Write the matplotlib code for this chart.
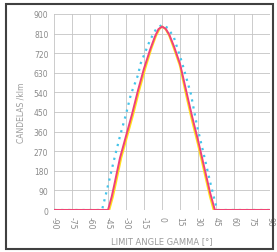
import matplotlib.pyplot as plt
from matplotlib.patches import Rectangle

# limit angle gamma (deg) and intensity (cd/klm)
red_angle = [-90, -45, -42, -40, -35, -30, -25, -20, -15, -10, -6, -3, 0,
             3, 6, 10, 15, 20, 25, 30, 35, 40, 44, 90]
red_value = [0, 0, 60, 110, 240, 340, 440, 550, 650, 735, 795, 830, 842,
             832, 805, 750, 670, 550, 430, 320, 200, 80, 0, 0]

yellow_angle = [-90, -44, -41, -39, -34, -29, -24, -19, -14, -9, -5, -2, 0,
                3, 6, 10, 15, 20, 25, 30, 35, 40, 43, 90]
yellow_value = [0, 0, 60, 110, 240, 340, 440, 550, 650, 740, 800, 832, 842,
                830, 800, 740, 660, 530, 410, 300, 180, 60, 0, 0]

cyan_angle = [-90, -50, -46, -40, -35, -30, -26, -20, -18, -10, -5, 0,
              5, 10, 17, 24, 29, 35, 40, 44, 46, 90]
cyan_value = [0, 0, 90, 230, 340, 440, 530, 620, 670, 780, 830, 850,
              835, 790, 670, 533, 390, 250, 130, 40, 0, 0]

x_ticks = list(range(-90, 91, 15))
y_ticks = list(range(0, 901, 90))

fig = plt.figure(figsize=(2.77, 2.53), dpi=100)
ax = fig.add_axes([0.195, 0.166, 0.78, 0.775])

ax.plot(cyan_angle, cyan_value, color="#45c4ea", linestyle=(0, (1, 2.2)),
        linewidth=1.6, zorder=3)
ax.plot(yellow_angle, yellow_value, color="#ffe21a", linewidth=1.5, zorder=4)
ax.plot(red_angle, red_value, color="#f0407a", linewidth=1.4, zorder=5)

ax.set_xlim(-90, 90)
ax.set_ylim(0, 900)
ax.set_xticks(x_ticks)
ax.set_yticks(y_ticks)
ax.set_xticklabels([str(t) for t in x_ticks], rotation=-90)
ax.tick_params(length=0, labelsize=5.5, colors="#8a8a8a", pad=4)
ax.grid(True, color="#c4c4c4", linewidth=0.6)
for s in ax.spines.values():
    s.set_visible(False)

ax.set_ylabel("CANDELAS /klm", fontsize=5.5, color="#9a9a9a", labelpad=6)
ax.set_xlabel("LIMIT ANGLE GAMMA [°]", fontsize=6, color="#9a9a9a", labelpad=6)

fig.patches.append(Rectangle((0.022, 0.01), 0.965, 0.97, transform=fig.transFigure,
                             fill=False, edgecolor="#404040", linewidth=1.5))

fig.savefig("out.png", dpi=100)
